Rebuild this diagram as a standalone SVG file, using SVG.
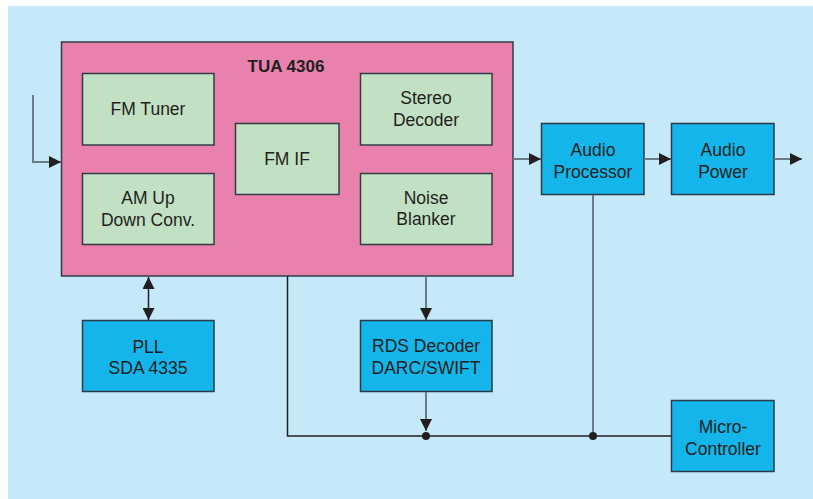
<svg xmlns="http://www.w3.org/2000/svg" width="813" height="499" viewBox="0 0 813 499">
<style>
text{font-family:"Liberation Sans",Arial,sans-serif;font-size:17.5px;fill:#231f20;text-anchor:middle}
.chip{fill:#e882ac;stroke:#333c44;stroke-width:1.5}
.sub{fill:#c2e0c3;stroke:#333c44;stroke-width:1.5}
.blk{fill:#14b5ea;stroke:#2b3a44;stroke-width:1.5}
.g{fill:none;stroke:#6b7a84;stroke-width:2}
.d{fill:none;stroke:#231f20;stroke-width:1.5}
</style>
<defs>
<marker id="ah" markerUnits="userSpaceOnUse" markerWidth="12" markerHeight="12" viewBox="0 0 12 12" refX="12" refY="6" orient="auto">
<path d="M0,0 L12,6 L0,12 Z" fill="#231f20"/>
</marker>
<marker id="as" markerUnits="userSpaceOnUse" markerWidth="12" markerHeight="12" viewBox="0 0 12 12" refX="0" refY="6" orient="auto">
<path d="M12,0 L0,6 L12,12 Z" fill="#231f20"/>
</marker>
</defs>
<rect x="8" y="6" width="805" height="493" fill="#c6e9f9"/>
<g id="tua4306">
<rect class="chip" x="61.5" y="42" width="451.5" height="234"/>
<text x="286" y="72" style="font-weight:bold;font-size:17px">TUA 4306</text>
</g>
<g id="fm-tuner">
<rect class="sub" x="82.5" y="73.5" width="131.5" height="71.5"/>
<text x="148" y="115">FM Tuner</text>
</g>
<g id="am-conv">
<rect class="sub" x="82.5" y="173.5" width="131.5" height="71"/>
<text x="148" y="204">AM Up</text>
<text x="148" y="226">Down Conv.</text>
</g>
<g id="fm-if">
<rect class="sub" x="235.5" y="123.5" width="103.5" height="71"/>
<text x="287" y="165">FM IF</text>
</g>
<g id="stereo-decoder">
<rect class="sub" x="360.5" y="73.5" width="131.5" height="71.5"/>
<text x="426" y="104">Stereo</text>
<text x="426" y="126">Decoder</text>
</g>
<g id="noise-blanker">
<rect class="sub" x="360.5" y="173.5" width="131.5" height="71"/>
<text x="426" y="204">Noise</text>
<text x="426" y="225">Blanker</text>
</g>
<g id="audio-processor">
<rect class="blk" x="541.5" y="123.5" width="102.5" height="71"/>
<text x="593" y="156">Audio</text>
<text x="593" y="178">Processor</text>
</g>
<g id="audio-power">
<rect class="blk" x="671.5" y="123.5" width="102.5" height="71"/>
<text x="723" y="156">Audio</text>
<text x="723" y="178">Power</text>
</g>
<g id="pll">
<rect class="blk" x="82.5" y="320.5" width="131.5" height="71"/>
<text x="148" y="353">PLL</text>
<text x="148" y="374">SDA 4335</text>
</g>
<g id="rds-decoder">
<rect class="blk" x="360.5" y="320.5" width="131.5" height="71"/>
<text x="426" y="352">RDS Decoder</text>
<text x="426" y="374">DARC/SWIFT</text>
</g>
<g id="microcontroller">
<rect class="blk" x="671.5" y="400.5" width="102.5" height="71"/>
<text x="723" y="433">Micro-</text>
<text x="723" y="455">Controller</text>
</g>
<g id="connectors">
<path class="g" d="M33,95 V162 H61" marker-end="url(#ah)"/>
<path class="g" d="M513,159 H541" marker-end="url(#ah)"/>
<path class="g" d="M644,159 H671" marker-end="url(#ah)"/>
<path class="g" d="M774,159 H802" marker-end="url(#ah)"/>
<path class="d" d="M148.5,277 V320" marker-start="url(#as)" marker-end="url(#ah)"/>
<path class="g" d="M426,276 V320" marker-end="url(#ah)"/>
<path class="g" d="M426,392 V431" marker-end="url(#ah)"/>
<path class="d" d="M287.5,276 V436 H671"/>
<path class="g" d="M593,195 V436"/>
<circle cx="426" cy="436" r="4" fill="#231f20"/>
<circle cx="593" cy="436" r="4" fill="#231f20"/>
</g>
</svg>
